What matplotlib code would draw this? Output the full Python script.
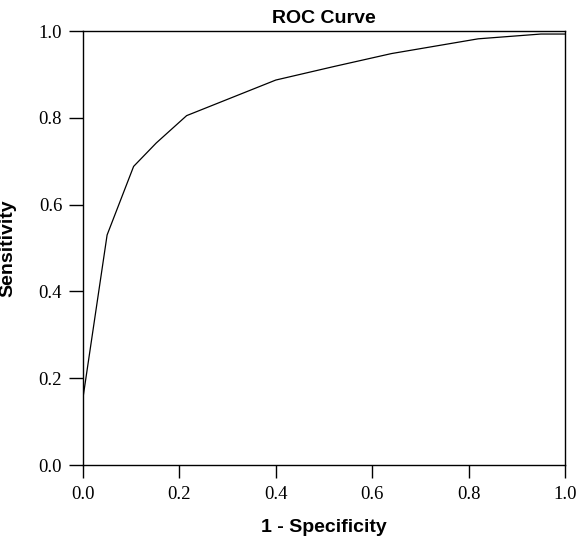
import matplotlib
matplotlib.use("Agg")
import matplotlib.pyplot as plt

fpr = [0.0, 0.0, 0.05, 0.105, 0.152, 0.215, 0.40, 0.52, 0.64, 0.82, 0.95, 1.0]
tpr = [0.13, 0.155, 0.53, 0.688, 0.742, 0.805, 0.887, 0.918, 0.948, 0.982, 0.993, 0.993]
ticks = [0.0, 0.2, 0.4, 0.6, 0.8, 1.0]
tick_labels = ["0.0", "0.2", "0.4", "0.6", "0.8", "1.0"]

fig = plt.figure(figsize=(5.77, 5.39), dpi=100)
ax = fig.add_axes([83/577, 74/539, 482/577, 434/539])
ax.plot(fpr, tpr, color="black", lw=0.9)
ax.set_xlim(0, 1)
ax.set_ylim(0, 1)
ax.set_xticks(ticks)
ax.set_xticklabels(tick_labels)
ax.set_yticks(ticks)
ax.set_yticklabels(tick_labels)
ax.tick_params(direction="out", width=1, labelsize=13.5, colors="black")
ax.tick_params(axis="x", length=9, pad=6)
ax.tick_params(axis="y", length=10, pad=5)
for lab in ax.get_xticklabels() + ax.get_yticklabels():
    lab.set_family("Liberation Serif")
for s in ax.spines.values():
    s.set_linewidth(1.0)
ax.set_xlabel("1 - Specificity", fontsize=14, fontweight="bold", family="Liberation Sans", labelpad=12)
ax.set_ylabel("Sensitivity", fontsize=14, fontweight="bold", family="Liberation Sans", labelpad=16)
ax.set_title("ROC Curve", fontsize=14, fontweight="bold", family="Liberation Sans", pad=6)
fig.savefig("out.png", dpi=100)
